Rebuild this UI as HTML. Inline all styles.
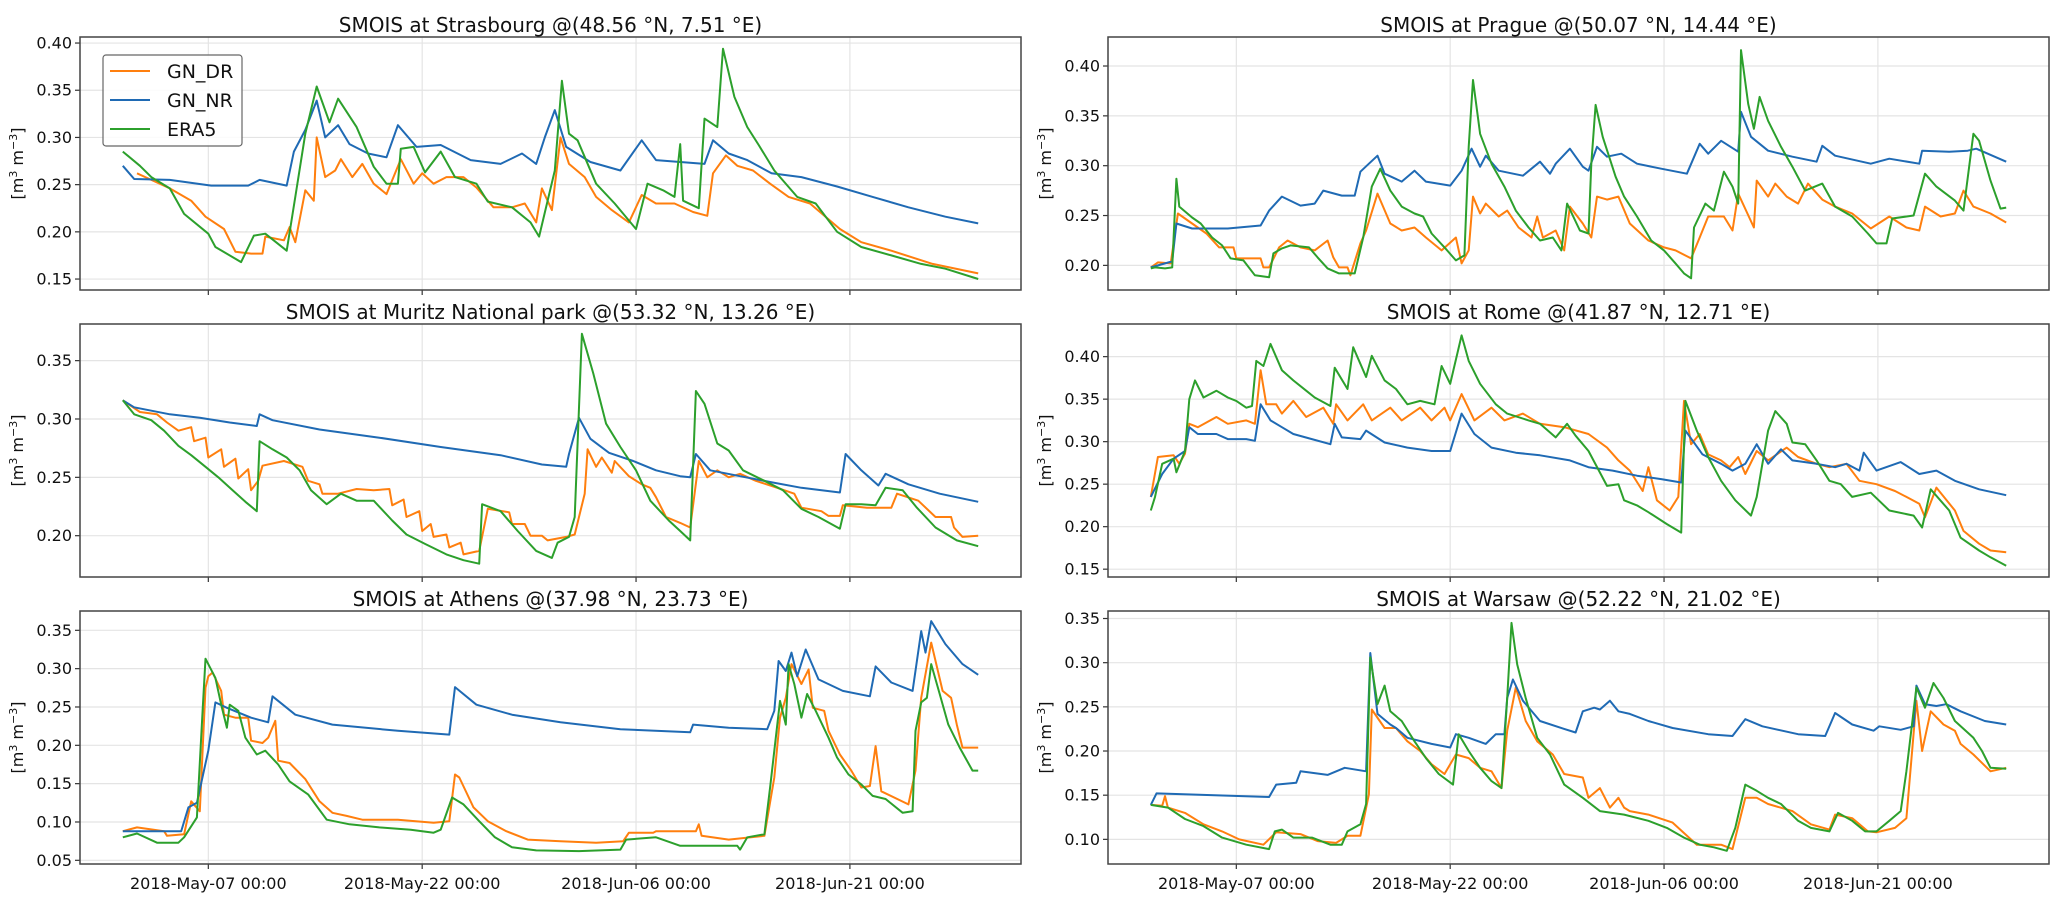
<!DOCTYPE html>
<html><head><meta charset="utf-8"><style>
html,body{margin:0;padding:0;background:#fff;}
svg{display:block;font-family:"DejaVu Sans","Liberation Sans",sans-serif;}
</style></head><body>
<svg id="fig" width="2067" height="903" viewBox="0 0 2067 903" xmlns="http://www.w3.org/2000/svg"></svg>
<script>
// x axis: days since 2018-May-01 00:00
const xTickDays = [6, 21, 36, 51];
const xTickLabels = ["2018-May-07 00:00","2018-May-22 00:00","2018-Jun-06 00:00","2018-Jun-21 00:00"];
const xDomain = [-3, 63];

const panelTitles = ["SMOIS at Strasbourg @(48.56 °N, 7.51 °E)","SMOIS at Prague @(50.07 °N, 14.44 °E)","SMOIS at Muritz National park @(53.32 °N, 13.26 °E)","SMOIS at Rome @(41.87 °N, 12.71 °E)","SMOIS at Athens @(37.98 °N, 23.73 °E)","SMOIS at Warsaw @(52.22 °N, 21.02 °E)"];
const yDomains = [[0.1384,0.4064],[0.1753,0.4291],[0.1646,0.3814],[0.1408,0.4384],[0.0452,0.3752],[0.0721,0.3585]];
const yTicks = [[0.15,0.20,0.25,0.30,0.35,0.40],[0.20,0.25,0.30,0.35,0.40],[0.20,0.25,0.30,0.35],[0.15,0.20,0.25,0.30,0.35,0.40],[0.05,0.10,0.15,0.20,0.25,0.30,0.35],[0.10,0.15,0.20,0.25,0.30,0.35]];
const seriesNames = ["GN_DR","GN_NR","ERA5"];

const strasbourgDR = [[1,.262],[2,.255],[3.3,.246],[4.8,.233],[5.8,.216],[7.1,.203],[7.9,.179],[9,.177],[9.8,.177],[10,.195],[11.3,.191],[11.7,.205],[12.1,.189],[12.8,.244],[13.4,.233],[13.6,.300],[14.2,.258],[14.9,.265],[15.3,.277],[16.1,.258],[16.8,.272],[17.6,.251],[18.5,.240],[19.5,.277],[20.4,.251],[21,.262],[21.8,.251],[22.7,.258],[23.9,.258],[24.8,.247],[26,.226],[27.3,.226],[28.2,.230],[29,.210],[29.4,.246],[30.1,.223],[30.7,.300],[31.3,.272],[32.4,.258],[33.2,.237],[34.3,.223],[35.5,.210],[36.4,.239],[37.4,.230],[38.7,.230],[40,.221],[41,.217],[41.4,.262],[42.3,.281],[43.1,.270],[44.2,.265],[45.4,.251],[46.7,.237],[48.2,.230],[50.3,.203],[51.8,.189],[53.9,.180],[56.8,.166],[60,.156]];
const strasbourgNR = [[0,.270],[0.8,.256],[3.3,.255],[6.2,.249],[8.8,.249],[9.6,.255],[11.5,.249],[12,.285],[12.8,.308],[13.6,.339],[14.2,.300],[15.1,.313],[15.9,.293],[17.2,.283],[18.5,.279],[19.3,.313],[20.6,.290],[22.3,.292],[24.4,.276],[26.5,.272],[28,.283],[29,.272],[29.6,.300],[30.3,.329],[31.1,.290],[32.8,.274],[34.9,.265],[36.4,.297],[37.4,.276],[39.1,.274],[40.8,.272],[41.4,.297],[42.5,.283],[43.8,.276],[45.5,.262],[47.6,.258],[50.1,.248],[52.6,.237],[55.1,.226],[57.7,.216],[60,.209]];
const strasbourgERA5 = [[0,.285],[1.2,.270],[2,.258],[3.3,.246],[4.3,.219],[6,.198],[6.5,.184],[8.3,.168],[9.2,.196],[10,.198],[11.5,.180],[12.1,.237],[12.8,.304],[13.6,.354],[14.5,.316],[15.1,.341],[16.4,.311],[17.6,.269],[18.5,.251],[19.3,.251],[19.5,.288],[20.4,.290],[21.2,.263],[22.3,.285],[23.3,.258],[24.8,.251],[25.6,.232],[27.3,.226],[28.6,.210],[29.2,.195],[30.3,.265],[30.8,.360],[31.3,.304],[31.9,.297],[33.2,.251],[34.5,.230],[36,.203],[36.8,.251],[37.9,.244],[38.7,.237],[39.1,.293],[39.3,.233],[40.4,.225],[40.8,.320],[41.7,.311],[42.1,.394],[42.9,.343],[43.8,.311],[44.6,.292],[45.7,.265],[47.3,.237],[48.6,.230],[50.1,.200],[51.8,.184],[53.9,.175],[56,.166],[57.7,.161],[60,.150]];

const pragueDR = [[0,.198],[0.5,.203],[1.4,.202],[1.9,.252],[2.9,.242],[3.9,.232],[4.8,.218],[5.8,.218],[6,.207],[7.7,.207],[7.9,.198],[8.3,.198],[9,.218],[9.6,.225],[10.5,.218],[11.5,.215],[12.4,.225],[12.8,.208],[13.2,.198],[13.8,.198],[14,.190],[14.7,.222],[15.1,.235],[15.9,.272],[16.8,.242],[17.6,.235],[18.5,.238],[19.3,.228],[20.4,.215],[21.4,.228],[21.8,.202],[22.3,.215],[22.6,.269],[23.1,.252],[23.5,.262],[24.4,.249],[25,.255],[25.8,.238],[26.7,.228],[27.1,.249],[27.5,.228],[28.4,.235],[29,.215],[29.4,.259],[30.3,.242],[30.9,.228],[31.3,.269],[32,.266],[32.8,.269],[33.6,.242],[34.9,.225],[36,.218],[36.8,.215],[37.9,.207],[38.5,.228],[39.1,.249],[40.2,.249],[40.8,.235],[41.2,.272],[42.3,.238],[42.5,.285],[43.3,.269],[43.8,.282],[44.6,.269],[45.4,.262],[46.1,.282],[47.1,.266],[48,.259],[49.2,.252],[50.5,.237],[51.8,.249],[53,.238],[53.9,.235],[54.3,.259],[55.4,.249],[56.4,.252],[57,.275],[57.7,.259],[58.9,.252],[60,.243]];
const pragueNR = [[0,.198],[1.5,.204],[1.8,.242],[2.9,.237],[5.4,.237],[7.7,.240],[8.3,.255],[9.2,.269],[10.5,.260],[11.5,.262],[12.1,.275],[13.4,.270],[14.3,.270],[14.7,.294],[15.3,.302],[15.9,.310],[16.4,.292],[17.6,.284],[18.5,.295],[19.3,.284],[21,.280],[21.8,.295],[22.5,.317],[23.1,.299],[23.5,.310],[24.4,.295],[26.1,.290],[27.3,.304],[28,.292],[28.4,.302],[29.4,.317],[30.3,.299],[30.7,.295],[31.3,.319],[32,.309],[33,.312],[34.1,.302],[35.8,.297],[37.6,.292],[38.5,.322],[39.1,.312],[40,.325],[41.2,.314],[41.4,.354],[42.1,.329],[43.3,.315],[45,.309],[46.7,.304],[47.1,.320],[48,.310],[50.5,.302],[51.8,.307],[53.9,.302],[54.1,.315],[56,.314],[57.3,.315],[57.9,.317],[60,.304]];
const pragueERA5 = [[0,.197],[0.3,.198],[1,.197],[1.5,.198],[1.8,.287],[2,.259],[2.9,.248],[3.5,.242],[4.3,.228],[5,.220],[5.6,.207],[6.5,.205],[7.3,.190],[8.3,.188],[8.6,.212],[9.2,.217],[9.8,.220],[11.1,.218],[11.7,.208],[12.4,.197],[13.2,.192],[14.3,.192],[14.9,.228],[15.5,.279],[16.1,.297],[16.8,.275],[17.6,.259],[18.5,.252],[19.1,.249],[19.7,.232],[20.6,.218],[21.4,.205],[22,.210],[22.3,.319],[22.6,.386],[23.1,.332],[23.9,.302],[24.8,.279],[25.6,.255],[26.5,.238],[27.3,.225],[28.2,.228],[28.8,.215],[29.2,.262],[30.1,.235],[30.7,.232],[30.9,.302],[31.2,.361],[31.7,.329],[32.6,.289],[33.2,.269],[34.1,.249],[35.1,.225],[36,.215],[36.8,.202],[37.4,.192],[37.9,.187],[38.1,.238],[38.9,.262],[39.5,.255],[40.2,.294],[40.8,.279],[41.2,.262],[41.4,.416],[41.9,.362],[42.3,.337],[42.7,.369],[43.3,.345],[44.2,.319],[45,.299],[45.9,.275],[47.1,.282],[48,.259],[49.2,.249],[50.3,.232],[50.9,.222],[51.6,.222],[52,.247],[53.5,.250],[54.3,.292],[55.1,.279],[56.4,.265],[57,.255],[57.7,.332],[58.1,.325],[58.9,.285],[59.6,.257],[60,.258]];

const muritzDR = [[0,.316],[1.2,.306],[2.4,.304],[3.1,.297],[3.9,.290],[4.8,.293],[5,.281],[5.8,.284],[6,.267],[6.9,.274],[7.1,.259],[7.9,.266],[8.1,.249],[8.8,.257],[9,.239],[9.5,.247],[9.8,.260],[11.3,.264],[12.6,.259],[13,.247],[13.8,.244],[14,.236],[15.1,.236],[16.4,.240],[17.6,.239],[18.7,.240],[18.9,.226],[19.7,.231],[19.9,.216],[20.8,.221],[21,.204],[21.6,.210],[21.8,.199],[22.7,.201],[22.9,.190],[23.7,.194],[23.9,.184],[25,.187],[25.6,.223],[27.1,.220],[27.3,.210],[28.2,.210],[28.6,.200],[29.4,.200],[29.8,.196],[31.1,.199],[31.7,.201],[32.4,.236],[32.6,.274],[33.2,.259],[33.6,.267],[34.3,.254],[34.5,.264],[35.5,.251],[36.4,.244],[37,.241],[37.4,.233],[38.1,.216],[39.1,.211],[39.8,.207],[40.4,.264],[41,.250],[41.7,.256],[42.5,.250],[43.3,.253],[44.4,.247],[45.9,.241],[47.1,.236],[47.6,.224],[49,.221],[49.5,.217],[50.3,.217],[50.5,.226],[52.2,.224],[53.9,.224],[54.3,.236],[55.8,.230],[57,.216],[58.1,.216],[58.3,.207],[58.9,.199],[60,.200]];
const muritzNR = [[0,.316],[0.8,.310],[3.3,.304],[5.4,.301],[7.5,.297],[9.4,.294],[9.6,.304],[10.5,.299],[13.8,.291],[18,.284],[22.3,.276],[26.5,.269],[29.4,.261],[31.1,.259],[31.3,.270],[32,.301],[32.8,.283],[34.1,.271],[35.8,.264],[37.4,.256],[39.1,.251],[39.8,.250],[40.2,.270],[41.2,.256],[43.3,.251],[45.4,.246],[47.6,.241],[50.3,.237],[50.7,.270],[51.8,.256],[53,.243],[53.5,.253],[55.1,.244],[57.3,.236],[60,.229]];
const muritzERA5 = [[0,.316],[0.8,.304],[2,.299],[2.9,.290],[3.9,.277],[4.8,.269],[5.8,.259],[6.7,.250],[7.7,.239],[8.6,.229],[9.4,.221],[9.6,.281],[10.5,.274],[11.5,.267],[12.4,.256],[13.2,.239],[14.3,.227],[15.3,.236],[16.4,.230],[17.6,.230],[18.9,.213],[19.9,.201],[21.2,.193],[22.7,.184],[23.9,.179],[25,.176],[25.2,.227],[26.5,.221],[27.7,.204],[29,.187],[30.1,.181],[30.5,.194],[31.3,.199],[31.7,.216],[32.2,.373],[33,.339],[33.9,.296],[34.9,.276],[36,.256],[37,.230],[38.3,.213],[39.1,.204],[39.8,.196],[40.2,.324],[40.8,.313],[41.7,.279],[42.5,.273],[43.5,.256],[45,.247],[46.3,.239],[47.6,.223],[48.8,.216],[50.3,.206],[50.7,.227],[51.8,.227],[52.8,.226],[53.5,.241],[54.7,.239],[55.7,.224],[57,.207],[58.5,.196],[60,.191]];

const romeDR = [[0,.235],[0.5,.282],[1.6,.284],[2,.274],[2.4,.286],[2.7,.321],[3.3,.317],[4.6,.329],[5.4,.321],[6.7,.325],[7.3,.321],[7.7,.384],[8.1,.344],[8.8,.344],[9.2,.333],[10,.348],[10.9,.329],[12.1,.340],[12.8,.321],[13,.344],[13.8,.325],[14.9,.344],[15.5,.325],[16.8,.340],[17.6,.325],[18.9,.340],[19.7,.325],[20.6,.340],[21,.325],[21.8,.356],[22.7,.325],[23.9,.340],[24.8,.325],[26.1,.333],[27.3,.321],[29,.317],[30.7,.309],[32,.293],[32.8,.278],[33.6,.266],[34.5,.242],[34.9,.270],[35.5,.231],[36.4,.219],[37,.235],[37.4,.348],[37.9,.297],[38.5,.309],[39.1,.285],[40,.278],[40.6,.270],[41.2,.282],[41.7,.262],[42.5,.289],[43.3,.278],[44.6,.293],[45.4,.282],[46.7,.274],[47.6,.270],[48.8,.274],[49.7,.254],[50.9,.250],[52.2,.242],[53,.235],[53.9,.227],[54.3,.211],[55.1,.246],[56.4,.219],[57,.195],[58.1,.180],[58.9,.172],[60,.170]];
const romeNR = [[0,.235],[0.8,.262],[1.6,.280],[2.4,.289],[2.7,.317],[3.3,.309],[4.6,.309],[5.4,.303],[6.7,.303],[7.3,.301],[7.7,.344],[8.4,.325],[9.2,.317],[10,.309],[11.3,.303],[12.6,.297],[12.9,.321],[13.4,.305],[14.7,.303],[15.1,.313],[16.4,.299],[18,.293],[19.7,.289],[21,.289],[21.8,.333],[22.7,.309],[23.9,.293],[25.6,.287],[27.3,.284],[29.4,.278],[30.7,.270],[32.4,.266],[34.1,.260],[35.8,.256],[37.2,.252],[37.5,.313],[38.7,.285],[40,.274],[40.8,.266],[41.7,.274],[42.5,.297],[43.3,.274],[44.2,.291],[45,.278],[46.7,.274],[48,.270],[48.8,.274],[49.7,.266],[50,.287],[50.9,.266],[52.6,.276],[53.9,.262],[55.1,.266],[56.4,.254],[58.1,.244],[60,.237]];
const romeERA5 = [[0,.219],[0.3,.235],[0.8,.274],[1.6,.280],[1.8,.264],[2.4,.289],[2.7,.350],[3.1,.372],[3.7,.352],[4.6,.360],[5.4,.352],[6,.348],[6.7,.340],[7.1,.342],[7.4,.395],[7.9,.389],[8.4,.415],[9.2,.384],[10,.372],[10.9,.360],[11.5,.352],[12.6,.342],[12.9,.387],[13.8,.362],[14.2,.411],[15.1,.376],[15.5,.401],[16.4,.372],[17.2,.362],[18,.344],[18.9,.348],[19.9,.344],[20.4,.389],[21,.368],[21.8,.425],[22.3,.395],[23.1,.368],[24.2,.344],[25,.333],[26.5,.325],[27.3,.321],[28.4,.305],[29.2,.321],[29.8,.307],[30.7,.289],[32,.248],[32.8,.250],[33.2,.231],[34.1,.225],[34.9,.217],[36.2,.203],[37.2,.193],[37.5,.348],[38.3,.313],[39.1,.282],[40,.254],[41,.231],[42.1,.213],[42.5,.235],[43.3,.313],[43.8,.336],[44.6,.321],[45,.299],[45.9,.297],[46.7,.278],[47.6,.254],[48.4,.250],[49.2,.235],[50.5,.240],[51.8,.219],[53.5,.213],[54.1,.199],[54.7,.244],[56,.219],[56.8,.187],[58.1,.172],[58.9,.164],[60,.154]];

const athensDR = [[0,.088],[1,.093],[2.9,.088],[3.1,.082],[4.3,.084],[4.8,.127],[5.4,.114],[5.8,.275],[6,.290],[6.3,.295],[6.9,.271],[7.1,.240],[7.9,.236],[8.8,.236],[9,.206],[9.8,.203],[10.2,.210],[10.7,.232],[10.9,.180],[11.7,.177],[12.8,.156],[13.8,.127],[14.7,.112],[15.7,.108],[16.8,.103],[19.3,.103],[21.8,.099],[22.9,.101],[23.3,.162],[23.6,.158],[24.6,.119],[25.6,.101],[26.9,.088],[28.4,.077],[30.7,.075],[33.2,.073],[35.1,.075],[35.5,.086],[37.2,.086],[37.4,.088],[40.2,.088],[40.4,.097],[40.6,.082],[42.5,.077],[45,.082],[45.7,.158],[46.1,.236],[46.5,.262],[46.9,.306],[47.6,.280],[48.1,.299],[48.4,.249],[49.2,.245],[49.5,.219],[50.3,.188],[51.1,.167],[51.8,.145],[52.4,.147],[52.8,.199],[53.2,.140],[55.1,.123],[55.6,.167],[56,.262],[56.7,.334],[57.5,.271],[58.1,.262],[58.5,.227],[58.9,.197],[60,.197]];
const athensNR = [[0,.088],[4.1,.088],[4.6,.119],[5.2,.125],[6,.193],[6.5,.256],[7.3,.249],[9,.236],[10.2,.230],[10.5,.264],[12.1,.240],[14.7,.227],[19.3,.219],[22.9,.214],[23.3,.276],[24.8,.253],[27.3,.240],[30.7,.230],[34.9,.221],[39.8,.217],[40,.227],[42.5,.223],[45.2,.221],[45.7,.245],[46,.310],[46.5,.297],[46.9,.321],[47.3,.290],[47.9,.325],[48.8,.286],[50.5,.271],[52.4,.264],[52.8,.303],[53.9,.282],[55.4,.271],[56,.349],[56.3,.321],[56.7,.362],[57.7,.332],[58.9,.306],[60,.292]];
const athensERA5 = [[0,.080],[1,.085],[2.4,.073],[3.9,.073],[4.3,.080],[5.2,.106],[5.6,.245],[5.8,.313],[6.5,.288],[6.9,.253],[7.3,.223],[7.5,.253],[8.1,.245],[8.6,.210],[9.4,.188],[10,.193],[10.9,.175],[11.7,.153],[13,.136],[14.3,.103],[15.9,.097],[18,.093],[20.2,.090],[21.8,.086],[22.3,.090],[23.1,.132],[23.9,.123],[25,.101],[26.1,.080],[27.3,.067],[29,.063],[32,.062],[34.9,.064],[35.3,.077],[37.4,.080],[39.1,.069],[41.2,.069],[43.1,.069],[43.3,.064],[43.8,.080],[45,.084],[45.4,.145],[46.1,.258],[46.5,.227],[46.7,.306],[47.1,.280],[47.6,.236],[48,.267],[48.6,.245],[49.5,.210],[50.1,.184],[50.9,.162],[51.8,.149],[52.6,.134],[53.5,.130],[54.7,.112],[55.4,.114],[55.6,.219],[56,.256],[56.4,.262],[56.7,.306],[57.3,.267],[57.9,.227],[58.7,.197],[59.6,.167],[60,.167]];

const warsawDR = [[0,.139],[0.8,.138],[1,.149],[1.2,.136],[2.4,.130],[3.7,.117],[5,.109],[6.2,.100],[7.9,.094],[8.8,.108],[10.5,.106],[11.7,.098],[13,.096],[13.8,.104],[14.7,.104],[15.3,.151],[15.5,.247],[16.4,.226],[17.2,.226],[18,.211],[18.9,.200],[19.7,.185],[20.6,.174],[21.4,.196],[22.3,.192],[23.1,.181],[23.9,.177],[24.6,.158],[25,.223],[25.6,.272],[26.3,.234],[27.1,.211],[28.2,.196],[29,.174],[30.3,.170],[30.7,.147],[31.5,.158],[32.2,.136],[32.8,.147],[33.2,.136],[33.6,.132],[34.9,.128],[36.6,.119],[38.3,.094],[40,.094],[40.8,.089],[41.7,.147],[42.5,.147],[43.3,.140],[45,.132],[46.3,.117],[47.6,.111],[48,.128],[49.2,.124],[50.3,.109],[50.9,.108],[52.2,.113],[53,.124],[53.7,.257],[54.1,.200],[54.7,.245],[55.6,.230],[56.4,.223],[56.8,.208],[57.7,.196],[58.9,.177],[60,.181]];
const warsawNR = [[0,.139],[0.4,.152],[8.3,.148],[8.8,.162],[10.2,.164],[10.5,.177],[12.4,.173],[13.6,.181],[15.1,.177],[15.4,.311],[15.9,.242],[16.8,.230],[17.2,.226],[18,.215],[19.7,.208],[21,.204],[21.4,.219],[22.3,.215],[23.5,.208],[24.2,.219],[24.8,.219],[25,.260],[25.4,.281],[26.1,.257],[27.3,.234],[29,.225],[29.8,.221],[30.3,.245],[31.1,.249],[31.5,.247],[32.2,.257],[32.8,.245],[33.6,.242],[34.9,.234],[36.6,.226],[39.1,.219],[40.8,.217],[41.7,.236],[42.9,.228],[45.4,.219],[47.3,.217],[48,.243],[49.2,.230],[50.7,.223],[51.1,.228],[52.6,.224],[53.5,.228],[53.7,.274],[54.3,.253],[55.1,.251],[55.8,.253],[56.8,.245],[58.5,.234],[60,.230]];
const warsawERA5 = [[0,.139],[1.2,.136],[2.4,.123],[3.7,.115],[5,.102],[6.7,.094],[8.3,.089],[8.7,.109],[9.2,.111],[10,.102],[11.3,.102],[12.6,.094],[13.4,.094],[13.8,.109],[14.7,.117],[15.1,.140],[15.4,.306],[15.9,.253],[16.4,.274],[16.8,.245],[17.6,.234],[18.5,.211],[19.3,.192],[20.2,.174],[21.2,.162],[21.6,.219],[22.3,.200],[23.1,.181],[23.9,.166],[24.6,.158],[25,.260],[25.3,.345],[25.7,.298],[26.3,.260],[27.1,.215],[28,.196],[29,.162],[30.3,.147],[31.5,.132],[33.2,.128],[34.9,.121],[36.2,.113],[37.4,.102],[38.5,.094],[39.5,.091],[40.4,.087],[41,.113],[41.7,.162],[42.5,.155],[43.3,.147],[44.2,.140],[45.4,.121],[46.3,.113],[47.6,.109],[48.2,.130],[49.2,.121],[50.1,.109],[50.9,.109],[51.8,.121],[52.6,.132],[53,.177],[53.7,.272],[54.3,.249],[54.9,.277],[55.6,.260],[56.4,.234],[57.7,.215],[58.3,.200],[58.9,.181],[60,.180]];

const panelSeries = [
  [strasbourgDR, strasbourgNR, strasbourgERA5],
  [pragueDR, pragueNR, pragueERA5],
  [muritzDR, muritzNR, muritzERA5],
  [romeDR, romeNR, romeERA5],
  [athensDR, athensNR, athensERA5],
  [warsawDR, warsawNR, warsawERA5]
];
const panelKeys = ["strasbourg","prague","muritz","rome","athens","warsaw"];

// layout
const colX = [80, 1108], rowY = [37, 324, 611], AW = 941, AH = 253;
const colors = ["#ff7f0e", "#1f6ab4", "#2ca02c"];
const NS = "http://www.w3.org/2000/svg";
const svg = document.getElementById("fig");
function mk(tag, attrs, parent) {
  const e = document.createElementNS(NS, tag);
  for (const k in attrs) e.setAttribute(k, attrs[k]);
  (parent || svg).appendChild(e);
  return e;
}

panelSeries.forEach((series, p) => {
  const x0 = colX[p % 2], y0 = rowY[Math.floor(p / 2)];
  const yd = yDomains[p];
  const sx = d => x0 + (d - xDomain[0]) / (xDomain[1] - xDomain[0]) * AW;
  const sy = v => y0 + (yd[1] - v) / (yd[1] - yd[0]) * AH;
  const g = mk("g", {});
  
  
  xTickDays.forEach(d => {
    const l = mk("line", {x1: sx(d), x2: sx(d), y1: y0, y2: y0 + AH, stroke: "#e4e4e4", "stroke-width": 1.2}, g);
    
    
    const t = mk("line", {x1: sx(d), x2: sx(d), y1: y0 + AH, y2: y0 + AH + 5, stroke: "#333", "stroke-width": 1.2}, g);
    
    
  });
  yTicks[p].forEach(v => {
    const l = mk("line", {x1: x0, x2: x0 + AW, y1: sy(v), y2: sy(v), stroke: "#e4e4e4", "stroke-width": 1.2}, g);
    
    
    const t = mk("line", {x1: x0 - 5, x2: x0, y1: sy(v), y2: sy(v), stroke: "#333", "stroke-width": 1.2}, g);
    
    
    const tx = mk("text", {x: x0 - 8, y: sy(v) + 5.5, "text-anchor": "end", "font-size": 16, fill: "#111"}, g);
    tx.textContent = v.toFixed(2);
    
    
  });
  series.forEach((pts, s) => {
    const d = pts.map((pt, i) => (i ? "L" : "M") + sx(pt[0]).toFixed(1) + "," + sy(pt[1]).toFixed(1)).join("");
    const path = mk("path", {d: d, fill: "none", stroke: colors[s], "stroke-width": 2, "stroke-linejoin": "round"}, g);
    
    
  });
  const fr = mk("rect", {x: x0, y: y0, width: AW, height: AH, fill: "none", stroke: "#444", "stroke-width": 1.5}, g);
  
  
  const ti = mk("text", {x: x0 + AW / 2, y: y0 - 5, "text-anchor": "middle", "font-size": 20, fill: "#111"}, g);
  ti.textContent = panelTitles[p];
  
  
  const yl = mk("text", {x: 0, y: 0, "text-anchor": "middle", "font-size": 16, fill: "#111", transform: "translate(" + (x0 - 57) + "," + (y0 + AH / 2) + ") rotate(-90)"}, g);
  yl.innerHTML = '[m<tspan dy="-6" font-size="11">3</tspan><tspan dy="6"> m</tspan><tspan dy="-6" font-size="11">−3</tspan><tspan dy="6">]</tspan>';
  
  
  if (Math.floor(p / 2) === 2) {
    xTickDays.forEach((d, i) => {
      const tx = mk("text", {x: sx(d), y: y0 + AH + 25, "text-anchor": "middle", "font-size": 16, fill: "#111"}, g);
      tx.textContent = xTickLabels[i];
      
      
    });
  }
  if (p === 0) {
    const lg = mk("g", {}, g);
    
    
    mk("rect", {x: 103, y: 55, width: 139, height: 91, rx: 3, fill: "#fff", "fill-opacity": 0.85, stroke: "#666", "stroke-width": 1.2}, lg);
    seriesNames.forEach((n, i) => {
      const yy = 71 + i * 29;
      const ln = mk("line", {x1: 110, x2: 150, y1: yy, y2: yy, stroke: colors[i], "stroke-width": 2}, lg);
      
      
      const tx = mk("text", {x: 167, y: yy + 7, "font-size": 19, fill: "#111"}, lg);
      tx.textContent = n;
      
      
    });
  }
});
</script>
</body></html>
